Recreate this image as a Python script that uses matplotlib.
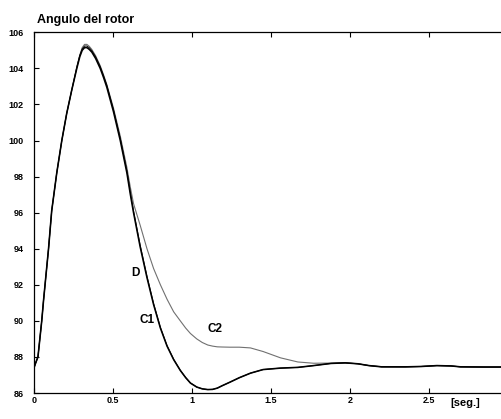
#!/usr/bin/env python3
# Rotor angle response: curves D, C1 and C2 (MATLAB-style plot)

import numpy as np
import matplotlib
matplotlib.use("Agg")
import matplotlib.pyplot as plt
from matplotlib.ticker import FuncFormatter

plt.rcParams["font.family"] = ["Liberation Sans", "DejaVu Sans"]

# time [s]
t = [0.0, 0.012, 0.025, 0.037, 0.049, 0.06, 0.071, 0.092, 0.112, 0.144,
     0.176, 0.207, 0.239, 0.271, 0.29, 0.305, 0.32, 0.335, 0.35, 0.366,
     0.39, 0.419, 0.44, 0.461, 0.503, 0.546, 0.588, 0.61, 0.63, 0.672,
     0.715, 0.757, 0.80, 0.842, 0.884, 0.926, 0.96, 0.99, 1.03, 1.065,
     1.10, 1.13, 1.16, 1.19, 1.24, 1.30, 1.37, 1.45, 1.56, 1.67,
     1.77, 1.88, 1.97, 2.05, 2.12, 2.2, 2.35, 2.45, 2.55, 2.64,
     2.7, 2.85, 3.0]

c1 = [87.4, 87.7, 88.0, 89.0, 90.0, 91.1, 92.1, 94.0, 96.1, 98.2,
      100.0, 101.5, 102.8, 104.0, 104.65, 105.0, 105.15, 105.15, 105.05, 104.9,
      104.55, 104.0, 103.5, 102.95, 101.6, 100.0, 98.2, 97.0, 96.0, 94.1,
      92.4, 90.9, 89.6, 88.6, 87.85, 87.25, 86.85, 86.55, 86.33, 86.23,
      86.19, 86.2, 86.27, 86.4, 86.6, 86.85, 87.1, 87.3, 87.38, 87.42,
      87.52, 87.64, 87.67, 87.62, 87.52, 87.45, 87.45, 87.47, 87.52, 87.5,
      87.45, 87.44, 87.44]

d = [87.4, 87.7, 88.0, 89.0, 90.0, 91.1, 92.1, 94.0, 96.1, 98.2,
     100.0, 101.5, 102.8, 104.05, 104.72, 105.08, 105.24, 105.24, 105.14, 104.98,
     104.64, 104.1, 103.6, 103.07, 101.72, 100.12, 98.32, 97.12, 96.1, 94.2,
     92.48, 90.96, 89.64, 88.63, 87.87, 87.26, 86.86, 86.56, 86.33, 86.23,
     86.19, 86.2, 86.27, 86.4, 86.6, 86.85, 87.1, 87.3, 87.38, 87.42,
     87.52, 87.64, 87.67, 87.62, 87.52, 87.45, 87.45, 87.47, 87.52, 87.5,
     87.45, 87.44, 87.44]

c2 = [87.4, 87.7, 88.0, 89.0, 90.0, 91.1, 92.1, 94.0, 96.1, 98.2,
      100.0, 101.5, 102.8, 104.1, 104.75, 105.15, 105.33, 105.33, 105.22, 105.05,
      104.7, 104.15, 103.65, 103.1, 101.8, 100.25, 98.5, 97.4, 96.5, 95.3,
      94.0, 92.9, 92.0, 91.2, 90.5, 90.0, 89.6, 89.3, 89.0, 88.8,
      88.66, 88.6, 88.56, 88.55, 88.54, 88.54, 88.5, 88.3, 87.95, 87.72,
      87.65, 87.66, 87.68, 87.62, 87.52, 87.46, 87.45, 87.47, 87.52, 87.5,
      87.45, 87.44, 87.44]

y_ticks = [86, 88, 90, 92, 94, 96, 98, 100, 102, 104, 106]
x_ticks = [0, 0.5, 1, 1.5, 2, 2.5]

W, H = 502, 419
fig = plt.figure(figsize=(W / 100, H / 100), dpi=100)
# right edge of the axes lies past the picture, as in the original
ax = fig.add_axes([34 / W, (H - 393) / H, 474 / W, 360.7 / H])

ax.plot(t, c2, color="#707070", lw=0.8)
ax.plot(t, d, color="black", lw=0.7)
ax.plot(t, c1, color="black", lw=1.15)

ax.set_xlim(0, 3)
ax.set_ylim(86, 106)
ax.set_xticks(x_ticks)
ax.set_yticks(y_ticks)
ax.xaxis.set_major_formatter(FuncFormatter(lambda v, _: "%g" % v))
ax.tick_params(direction="in", length=3.6, width=0.8, top=True, right=True,
               labelsize=6.5, colors="black")
ax.tick_params(axis="x", pad=2.5)
ax.tick_params(axis="y", pad=7.5)
for lab in ax.get_xticklabels() + ax.get_yticklabels():
    lab.set_fontweight("bold")
for sp in ax.spines.values():
    sp.set_linewidth(0.9)

# curve labels
ax.text(0.64, 92.68, "D", fontsize=8.5, fontweight="bold", ha="center", va="center")
ax.text(0.715, 90.04, "C1", fontsize=8.5, fontweight="bold", ha="center", va="center")
ax.text(1.148, 89.54, "C2", fontsize=8.5, fontweight="bold", ha="center", va="center")

ax.text(2.727, 85.3, "[seg.]", fontsize=8, fontweight="bold", ha="center",
        va="baseline", clip_on=False)
fig.text(37 / W, 1 - 23 / H, "Angulo del rotor", fontsize=9, fontweight="bold",
         ha="left", va="baseline")

fig.savefig("out.png", dpi=100)
